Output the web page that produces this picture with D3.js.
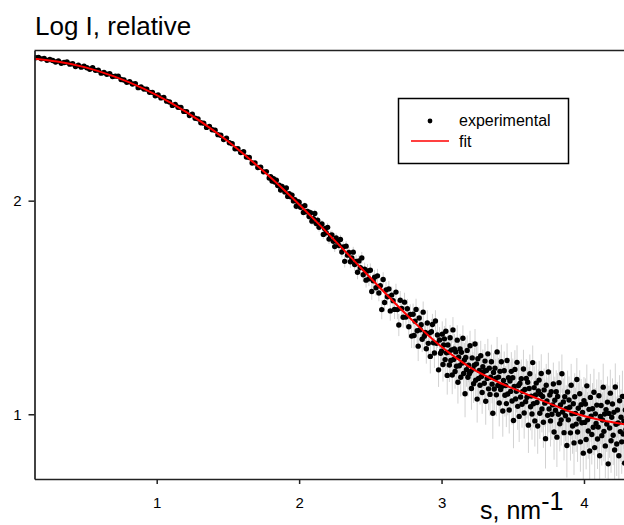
<!DOCTYPE html>
<html><head><meta charset="utf-8">
<script src="https://cdn.jsdelivr.net/npm/d3@7"></script>
<style>
html,body{margin:0;padding:0;background:#fff;}
svg{display:block;font-family:"Liberation Sans",Arial,sans-serif;}
</style></head><body>
<svg id="chart" width="624" height="525"></svg>
<script>
const xTicks = [1, 2, 3, 4];
const yTicks = [1, 2];
const titleText = "Log I, relative";
const xLabelText = "s, nm";
const xLabelSup = "-1";
const legendLabels = ["experimental", "fit"];

const fitS = [0.14,0.3,0.5,0.7,0.9,1.1,1.3,1.5,1.7,1.8,1.9,2.0,2.1,2.2,2.3,2.4,2.5,2.6,2.7,2.8,2.9,3.0,3.1,3.2,3.3,3.4,3.5,3.6,3.7,3.8,3.9,4.0,4.1,4.2,4.3];
const fitLogI = [2.664,2.651,2.624,2.582,2.527,2.458,2.375,2.278,2.167,2.108,2.046,1.982,1.916,1.848,1.779,1.709,1.639,1.570,1.502,1.436,1.374,1.316,1.265,1.220,1.183,1.150,1.121,1.093,1.066,1.039,1.013,0.992,0.976,0.963,0.951];

// [s, log I, error]
const experimentalPoints = [
[0.15,2.669,.006],[0.17,2.671,.006],[0.19,2.664,.005],[0.21,2.666,.006],[0.23,2.657,.006],[0.25,2.661,.005],[0.27,2.656,.006],[0.29,2.649,.006],[0.31,2.654,.005],[0.33,2.643,.006],[0.35,2.647,.006],[0.37,2.649,.005],[0.39,2.639,.006],[0.41,2.641,.006],[0.43,2.628,.006],[0.45,2.634,.005],[0.47,2.625,.006],[0.49,2.630,.006],[0.51,2.622,.006],[0.53,2.615,.006],[0.55,2.622,.005],[0.57,2.610,.006],[0.59,2.611,.006],[0.61,2.597,.007],[0.63,2.600,.006],[0.65,2.592,.006],[0.67,2.594,.006],[0.69,2.581,.007],[0.71,2.583,.006],[0.73,2.583,.006],[0.75,2.567,.007],[0.77,2.565,.006],[0.79,2.554,.007],[0.81,2.557,.006],[0.83,2.546,.007],[0.85,2.548,.006],[0.87,2.529,.007],[0.89,2.532,.007],[0.91,2.523,.007],[0.93,2.522,.006],[0.95,2.507,.007],[0.97,2.507,.007],[0.99,2.491,.008],[1.01,2.495,.007],[1.03,2.481,.008],[1.05,2.483,.007],[1.07,2.466,.008],[1.09,2.462,.008],[1.11,2.446,.008],[1.13,2.451,.007],[1.15,2.437,.008],[1.17,2.436,.008],[1.19,2.418,.008],[1.21,2.417,.008],[1.23,2.399,.009],[1.25,2.405,.008],[1.27,2.386,.009],[1.29,2.383,.008],[1.31,2.365,.009],[1.33,2.363,.009],[1.35,2.343,.009],[1.37,2.348,.009],[1.39,2.332,.009],[1.41,2.330,.009],[1.43,2.309,.010],[1.45,2.306,.009],[1.47,2.286,.010],[1.49,2.292,.009],[1.51,2.271,.010],[1.53,2.267,.010],[1.55,2.243,.010],[1.57,2.243,.010],[1.59,2.225,.011],[1.61,2.229,.010],[1.63,2.204,.011],[1.65,2.202,.011],[1.67,2.176,.011],[1.69,2.177,.011],[1.71,2.155,.012],[1.73,2.157,.011],[1.75,2.135,.012],[1.77,2.136,.012],[1.79,2.106,.012],
[1.80,2.112,.012],[1.81,2.092,.013],[1.82,2.103,.012],[1.83,2.087,.013],[1.84,2.096,.012],[1.85,2.071,.013],[1.86,2.072,.013],[1.87,2.050,.014],[1.88,2.067,.013],[1.89,2.055,.013],
[1.90,2.041,.014],[1.91,2.059,.013],[1.92,2.020,.015],[1.93,2.033,.014],[1.94,2.018,.014],[1.95,2.026,.014],[1.96,1.999,.015],[1.97,2.004,.014],[1.98,1.974,.016],[1.99,1.995,.015],
[2.00,1.993,.016],[2.01,1.969,.017],[2.02,1.971,.016],[2.03,1.945,.018],[2.04,1.976,.016],[2.05,1.948,.017],[2.06,1.949,.017],[2.07,1.926,.018],[2.08,1.944,.017],[2.09,1.904,.019],
[2.10,1.916,.018],[2.11,1.940,.017],[2.12,1.893,.019],[2.13,1.908,.018],[2.14,1.875,.020],[2.15,1.886,.019],[2.16,1.891,.018],[2.17,1.842,.021],[2.18,1.869,.019],[2.19,1.850,.020],
[2.20,1.875,.020],[2.21,1.820,.023],[2.22,1.837,.022],[2.23,1.840,.021],[2.24,1.810,.023],[2.25,1.785,.025],[2.26,1.825,.022],[2.27,1.806,.023],[2.28,1.790,.024],[2.29,1.818,.022],
[2.30,1.760,.026],[2.31,1.783,.024],[2.32,1.716,.029],[2.33,1.787,.024],[2.34,1.745,.027],[2.35,1.757,.026],[2.36,1.714,.029],[2.37,1.732,.027],[2.38,1.759,.025],[2.39,1.701,.030],
[2.40,1.716,.029],[2.41,1.665,.033],[2.42,1.718,.029],[2.43,1.686,.031],[2.44,1.732,.028],[2.45,1.653,.034],[2.46,1.679,.031],[2.47,1.628,.035],[2.48,1.671,.032],[2.49,1.634,.034],
[2.50,1.674,.032],[2.51,1.575,.039],[2.52,1.625,.035],[2.53,1.642,.034],[2.54,1.592,.037],[2.55,1.648,.033],[2.56,1.568,.039],[2.57,1.602,.036],[2.58,1.490,.045],[2.59,1.631,.034],
[2.60,1.523,.043],[2.61,1.582,.038],[2.62,1.550,.040],[2.63,1.587,.037],[2.64,1.484,.046],[2.65,1.558,.040],[2.66,1.532,.042],[2.67,1.491,.045],[2.68,1.572,.039],[2.69,1.490,.045],
[2.70,1.418,.052],[2.71,1.534,.043],[2.72,1.496,.046],[2.73,1.454,.049],[2.74,1.525,.044],[2.75,1.455,.049],[2.76,1.494,.046],[2.77,1.410,.052],[2.78,1.467,.048],[2.79,1.366,.056],
[2.800,1.468,.05],[2.807,1.369,.06],[2.814,1.436,.05],[2.821,1.491,.05],[2.829,1.391,.06],[2.836,1.319,.07],[2.843,1.451,.05],[2.850,1.396,.06],[2.857,1.419,.05],[2.864,1.351,.06],[2.871,1.478,.05],[2.879,1.365,.06],[2.886,1.383,.05],[2.893,1.307,.07],
[2.900,1.427,.06],[2.907,1.332,.06],[2.914,1.380,.05],[2.921,1.271,.08],[2.929,1.386,.06],[2.936,1.420,.05],[2.943,1.335,.06],[2.950,1.287,.07],[2.957,1.437,.05],[2.964,1.332,.06],[2.971,1.371,.06],[2.979,1.208,.08],[2.986,1.348,.06],[2.993,1.286,.07],
[3.000,1.295,.07],[3.005,1.375,.06],[3.010,1.233,.08],[3.015,1.324,.07],[3.020,1.353,.06],[3.025,1.256,.08],[3.030,1.389,.06],[3.035,1.288,.07],[3.040,1.182,.09],[3.045,1.324,.07],[3.050,1.291,.07],[3.055,1.231,.08],[3.060,1.358,.06],[3.065,1.252,.07],[3.070,1.301,.07],[3.075,1.184,.09],[3.080,1.395,.06],[3.085,1.257,.07],[3.090,1.306,.07],[3.095,1.200,.08],
[3.100,1.292,.07],[3.105,1.225,.08],[3.110,1.347,.07],[3.115,1.150,.10],[3.120,1.267,.08],[3.125,1.227,.08],[3.130,1.306,.07],[3.135,1.173,.09],[3.140,1.290,.07],[3.145,1.240,.08],[3.150,1.356,.06],[3.155,1.191,.09],[3.160,1.254,.08],[3.165,1.096,.11],[3.170,1.266,.08],[3.175,1.209,.08],[3.180,1.299,.07],[3.185,1.173,.09],[3.190,1.230,.08],[3.195,1.190,.08],
[3.200,1.321,.07],[3.205,1.201,.08],[3.210,1.121,.10],[3.215,1.264,.08],[3.220,1.212,.08],[3.225,1.143,.09],[3.230,1.230,.08],[3.235,1.329,.07],[3.240,1.159,.09],[3.245,1.236,.08],[3.250,1.071,.11],[3.255,1.260,.08],[3.260,1.168,.09],[3.265,1.205,.08],[3.270,1.136,.09],[3.275,1.274,.07],[3.280,1.177,.08],[3.285,1.102,.10],[3.290,1.223,.08],[3.295,1.199,.08],
[3.300,1.145,.09],[3.305,1.249,.08],[3.310,1.061,.11],[3.315,1.205,.09],[3.320,1.168,.09],[3.325,1.283,.07],[3.330,1.119,.10],[3.335,1.216,.08],[3.340,1.093,.10],[3.345,1.173,.09],[3.350,1.246,.08],[3.355,1.141,.09],[3.360,1.005,.12],[3.365,1.196,.09],[3.370,1.118,.10],[3.375,1.216,.08],[3.380,1.168,.09],[3.385,1.091,.10],[3.390,1.292,.07],[3.395,1.135,.09],
[3.400,1.174,.09],[3.405,1.053,.11],[3.410,1.201,.09],[3.415,1.116,.10],[3.420,1.246,.08],[3.425,1.131,.09],[3.430,1.015,.12],[3.435,1.158,.09],[3.440,1.204,.09],[3.445,1.089,.10],[3.450,1.135,.09],[3.455,1.050,.11],[3.460,1.252,.08],[3.465,1.095,.10],[3.470,1.171,.09],[3.475,1.020,.11],[3.480,1.156,.09],[3.485,1.107,.10],[3.490,1.201,.09],[3.495,1.062,.11],
[3.500,1.171,.09],[3.505,0.971,.13],[3.510,1.130,.10],[3.515,1.210,.09],[3.520,1.072,.11],[3.525,1.108,.10],[3.530,1.243,.08],[3.535,1.037,.11],[3.540,1.135,.10],[3.545,0.990,.12],[3.550,1.144,.10],[3.555,1.081,.10],[3.560,1.166,.09],[3.565,1.047,.11],[3.570,1.107,.10],[3.575,1.212,.09],[3.580,1.006,.12],[3.585,1.116,.10],[3.590,1.059,.11],[3.595,1.168,.09],
[3.600,1.080,.10],[3.605,1.150,.10],[3.610,0.949,.13],[3.615,1.121,.10],[3.620,1.190,.09],[3.625,1.035,.11],[3.630,1.085,.10],[3.635,1.001,.12],[3.640,1.242,.08],[3.645,1.049,.11],[3.650,1.125,.10],[3.655,0.969,.12],[3.660,1.090,.10],[3.665,1.146,.10],[3.670,1.055,.11],[3.675,0.945,.13],[3.680,1.109,.10],[3.685,1.160,.09],[3.690,1.005,.12],[3.695,1.093,.10],
[3.700,1.191,.09],[3.705,1.025,.11],[3.710,1.083,.10],[3.715,0.963,.12],[3.720,1.114,.10],[3.725,1.052,.11],[3.730,0.886,.14],[3.735,1.136,.10],[3.740,1.062,.11],[3.745,0.995,.12],[3.750,1.198,.09],[3.755,1.025,.11],[3.760,1.090,.10],[3.765,0.969,.12],[3.770,1.106,.10],[3.775,1.000,.12],[3.780,1.044,.11],[3.785,1.142,.10],[3.790,0.917,.13],[3.795,1.066,.11],
[3.800,1.019,.11],[3.805,1.106,.10],[3.810,0.893,.14],[3.815,1.083,.11],[3.820,1.000,.12],[3.825,1.148,.10],[3.830,0.956,.13],[3.835,1.044,.11],[3.840,0.974,.12],[3.845,1.190,.09],[3.850,1.011,.11],[3.855,1.058,.11],[3.860,0.914,.13],[3.865,1.082,.11],[3.870,0.993,.12],[3.875,1.026,.11],[3.880,0.854,.15],[3.885,1.104,.10],[3.890,0.974,.12],[3.895,1.067,.11],
[3.900,1.033,.11],[3.905,0.913,.13],[3.910,1.136,.10],[3.915,1.002,.12],[3.920,0.945,.13],[3.925,1.049,.11],[3.930,0.866,.15],[3.935,1.082,.11],[3.940,1.004,.12],[3.945,0.954,.13],[3.950,1.163,.10],[3.955,0.917,.14],[3.960,1.028,.12],[3.965,0.978,.12],[3.970,1.096,.11],[3.975,0.871,.14],[3.980,1.045,.12],[3.985,0.960,.13],[3.990,1.008,.12],[3.995,0.818,.16],
[4.000,1.064,.11],[4.005,0.962,.13],[4.010,1.048,.12],[4.015,0.882,.14],[4.020,1.133,.10],[4.025,0.974,.13],[4.030,0.922,.13],[4.035,1.023,.12],[4.040,0.828,.15],[4.045,1.079,.11],[4.050,0.991,.12],[4.055,0.905,.14],[4.060,1.026,.12],[4.065,0.939,.13],[4.070,1.103,.11],[4.075,0.844,.15],[4.080,1.002,.12],[4.085,0.957,.13],[4.090,1.043,.12],[4.095,0.884,.14],
[4.100,0.940,.13],[4.105,1.087,.11],[4.110,0.806,.16],[4.115,0.990,.13],[4.120,1.041,.12],[4.125,0.900,.14],[4.130,0.973,.13],[4.135,1.127,.11],[4.140,0.920,.14],[4.145,1.001,.13],[4.150,0.852,.15],[4.155,1.022,.12],[4.160,0.954,.13],[4.165,1.057,.12],[4.170,0.768,.17],[4.175,1.004,.13],[4.180,0.936,.14],[4.185,1.099,.11],[4.190,0.876,.15],[4.195,0.986,.13],
[4.200,1.048,.12],[4.205,0.902,.14],[4.210,1.009,.13],[4.215,0.833,.16],[4.220,1.128,.11],[4.225,0.953,.13],[4.230,0.861,.15],[4.235,1.020,.13],[4.240,0.959,.13],[4.245,0.806,.16],[4.250,1.063,.12],[4.255,0.919,.14],[4.260,0.986,.13],[4.265,0.871,.15],[4.270,1.084,.12],[4.275,0.908,.14],[4.280,0.968,.13],[4.285,0.771,.17],[4.290,1.020,.13],[4.295,0.929,.14]
];

const W = 624, H = 525;
const pLeft = 34.5, pRight = 624, pTop = 50.5, pBottom = 479;
const x = d3.scaleLinear().domain([0.142, 4.281]).range([pLeft, pRight]);
const y = d3.scaleLinear().domain([0.697, 2.703]).range([pBottom, pTop]);
const svg = d3.select("#chart");
const font = "'Liberation Sans', Arial, sans-serif";

svg.append("defs").append("clipPath").attr("id", "plotclip")
  .append("rect").attr("x", pLeft).attr("y", pTop).attr("width", W - pLeft + 10).attr("height", pBottom - pTop);

const plot = svg.append("g").attr("clip-path", "url(#plotclip)");
plot.append("g").selectAll("line").data(experimentalPoints).join("line")
  .attr("x1", d => x(d[0])).attr("x2", d => x(d[0]))
  .attr("y1", d => y(d[1] + d[2])).attr("y2", d => y(d[1] - d[2]))
  .attr("stroke", "#d2d2d2").attr("stroke-width", 1);
plot.append("g").selectAll("circle").data(experimentalPoints).join("circle")
  .attr("cx", d => x(d[0])).attr("cy", d => y(d[1])).attr("r", 2.7).attr("fill", "#000");
const fitLine = d3.line().x((d, i) => x(fitS[i])).y(d => y(d)).curve(d3.curveMonotoneX);
plot.append("path").datum(fitLogI).attr("d", fitLine)
  .attr("fill", "none").attr("stroke", "#ff0000").attr("stroke-width", 2);

// axes
const yAxis = svg.append("g").attr("transform", `translate(${pLeft},0)`)
  .call(d3.axisLeft(y).tickValues(yTicks).tickFormat(d3.format("d")).tickSize(6).tickSizeOuter(0).tickPadding(7));
const xAxis = svg.append("g").attr("transform", `translate(0,${pBottom})`)
  .call(d3.axisBottom(x).tickValues(xTicks).tickFormat(d3.format("d")).tickSize(5).tickSizeOuter(0).tickPadding(13));
[yAxis, xAxis].forEach(a => {
  a.attr("font-family", null).attr("font-size", null);
  a.select(".domain").attr("stroke", "#222").attr("stroke-width", 1.7);
  a.selectAll(".tick line").attr("stroke", "#222").attr("stroke-width", 1.5);
  a.selectAll(".tick text").attr("fill", "#000")
    .style("font-family", font).style("font-size", "15px");
});
svg.append("line").attr("x1", pLeft).attr("x2", W + 5).attr("y1", pTop).attr("y2", pTop)
  .attr("stroke", "#222").attr("stroke-width", 1.7);

// title
svg.append("text").attr("x", 35).attr("y", 35).style("font-family", font)
  .style("font-size", "26px").attr("fill", "#000").text(titleText);

// x label
const xl = svg.append("text").attr("x", 480).attr("y", 519).style("font-family", font)
  .style("font-size", "25px").attr("fill", "#000");
xl.append("tspan").text(xLabelText);
xl.append("tspan").attr("dy", -9).text(xLabelSup);

// legend
const lg = svg.append("g");
lg.append("rect").attr("x", 398.5).attr("y", 98.5).attr("width", 170).attr("height", 65)
  .attr("fill", "#fff").attr("stroke", "#000").attr("stroke-width", 1.5);
lg.append("circle").attr("cx", 430).attr("cy", 121).attr("r", 2.4).attr("fill", "#000");
lg.append("line").attr("x1", 411).attr("x2", 449).attr("y1", 141).attr("y2", 141)
  .attr("stroke", "#ff0000").attr("stroke-width", 1.5);
lg.selectAll("text.lab").data(legendLabels).join("text").attr("class", "lab")
  .attr("x", 459).attr("y", (d, i) => 126 + i * 20.5)
  .style("font-family", font).style("font-size", "16px").attr("fill", "#000").text(d => d);
</script>
</body></html>
